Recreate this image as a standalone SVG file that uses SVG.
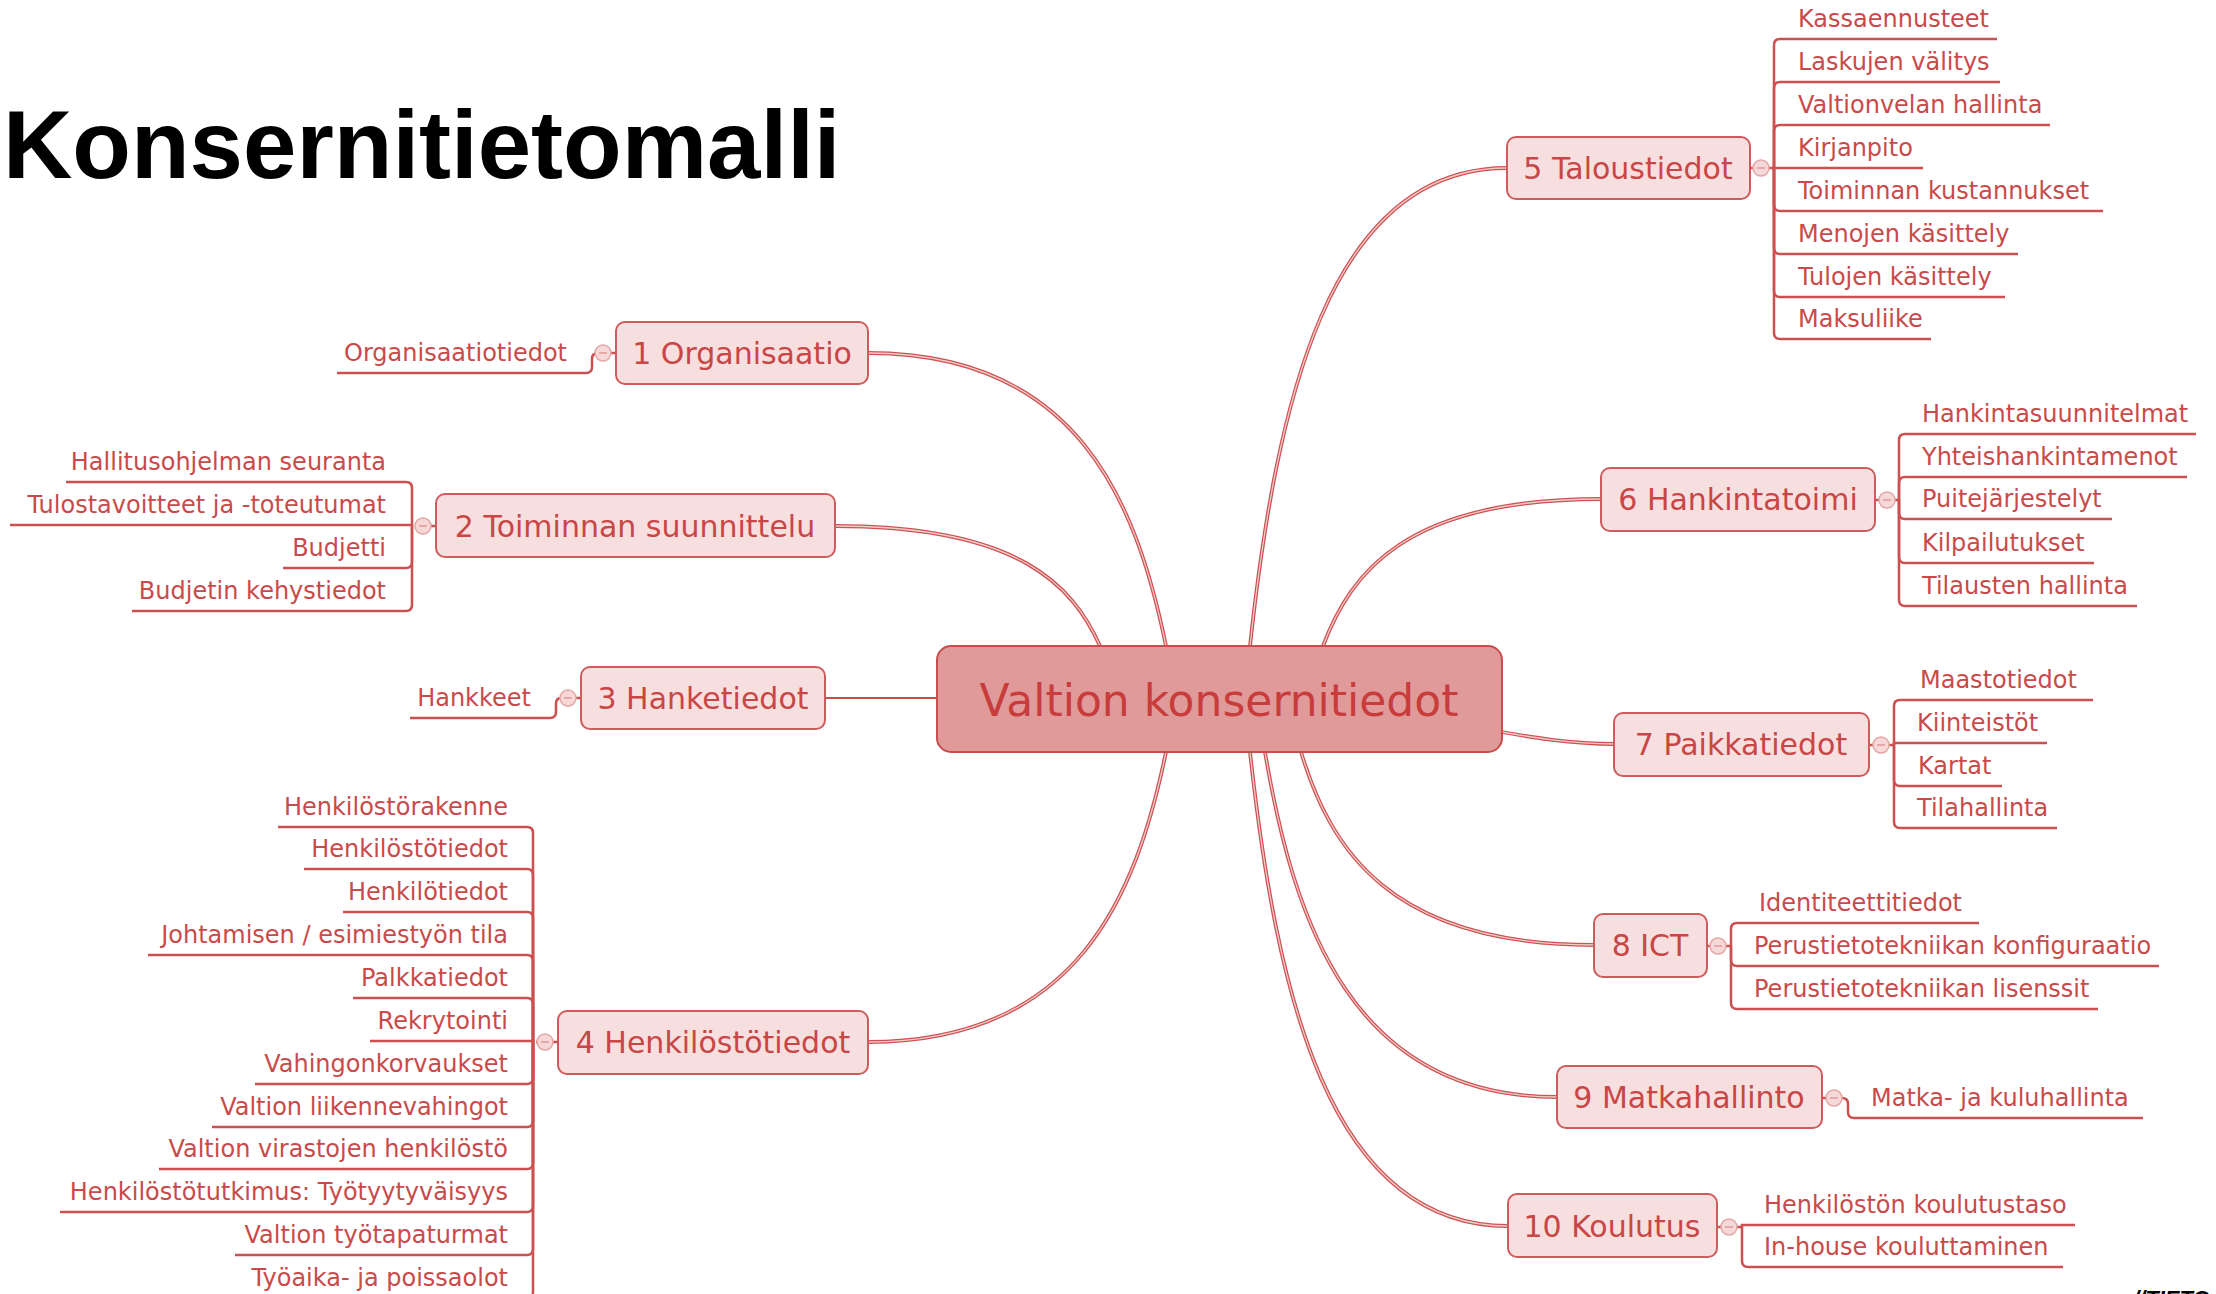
<svg xmlns="http://www.w3.org/2000/svg" width="2216" height="1294" viewBox="0 0 2216 1294">
<style>
.title{font-family:"Liberation Sans",Arial,sans-serif;font-weight:bold;font-size:96px;fill:#000}
.foot{font-family:"Liberation Sans",Arial,sans-serif;font-weight:bold;font-style:italic;font-size:22px;fill:#000}
.box{fill:#f7dfdf;stroke:#cf5c5c;stroke-width:2}
.cbox{fill:#e19a9a;stroke:#c84d4d;stroke-width:2}
.t1{font-family:"DejaVu Sans",Verdana,sans-serif;font-size:30px;fill:#c94646;text-anchor:middle}
.t0{font-family:"DejaVu Sans",Verdana,sans-serif;font-size:44px;fill:#c83c3c;text-anchor:middle}
.lf{font-family:"DejaVu Sans",Verdana,sans-serif;font-size:24px;fill:#c94a4a}
.lfl{font-family:"DejaVu Sans",Verdana,sans-serif;font-size:24px;fill:#c94a4a;text-anchor:end}
.ll{fill:none;stroke:#cc5050;stroke-width:2.5}
.mo{fill:none;stroke:#cc5252;stroke-width:3.8}
.mi{fill:none;stroke:#f4caca;stroke-width:1.3}
.ms{fill:none;stroke:#cc4c4c;stroke-width:2.2}
.btn{fill:#f7d8d8;stroke:#e3a6a6;stroke-width:1.5}
.bm{stroke:#e09a9a;stroke-width:1.5}
</style>

<text class="title" x="3" y="178">Konsernitietomalli</text>
<text class="foot" x="2133" y="1306">//TIETO</text>

<g id="connectors">
  <g id="main-connectors">
    <path class="mo" d="M1166 646 C1136 500 1077 353 868 353"/>
    <path class="mi" d="M1166 646 C1136 500 1077 353 868 353"/>
    <path class="mo" d="M1100 646 C1073 586 1020 526 835 526"/>
    <path class="mi" d="M1100 646 C1073 586 1020 526 835 526"/>
    <path class="ms" d="M937 698 H825"/>
    <path class="mo" d="M1166 752 C1136 897 1077 1042 868 1042"/>
    <path class="mi" d="M1166 752 C1136 897 1077 1042 868 1042"/>
    <path class="mo" d="M1250 646 C1276 407 1327 168 1507 168"/>
    <path class="mi" d="M1250 646 C1276 407 1327 168 1507 168"/>
    <path class="mo" d="M1323 646 C1351 572 1406 499 1601 499"/>
    <path class="mi" d="M1323 646 C1351 572 1406 499 1601 499"/>
    <path class="mo" d="M1502 732 C1530 737 1570 744 1614 744"/>
    <path class="mi" d="M1502 732 C1530 737 1570 744 1614 744"/>
    <path class="mo" d="M1301 752 C1330 848 1389 945 1594 945"/>
    <path class="mi" d="M1301 752 C1330 848 1389 945 1594 945"/>
    <path class="mo" d="M1265 752 C1294 924 1353 1097 1557 1097"/>
    <path class="mi" d="M1265 752 C1294 924 1353 1097 1557 1097"/>
    <path class="mo" d="M1250 752 C1276 989 1327 1226 1508 1226"/>
    <path class="mi" d="M1250 752 C1276 989 1327 1226 1508 1226"/>
  </g>
  <g id="leaf-connectors">
    <path class="ll" d="M868 353 H611"/>
    <path class="ll" d="M337 373 H586 Q592 373 592 367 V359 Q592 353 598 353"/>
    <path class="ll" d="M436 526 H415"/>
    <path class="ll" d="M412 526 V488 Q412 482 406 482 H66"/>
    <path class="ll" d="M412 526 V525 H10"/>
    <path class="ll" d="M412 526 V562 Q412 568 406 568 H283"/>
    <path class="ll" d="M412 526 V605 Q412 611 406 611 H132"/>
    <path class="ll" d="M581 698 H576"/>
    <path class="ll" d="M410 718 H550 Q556 718 556 712 V704 Q556 698 561 698"/>
    <path class="ll" d="M558 1042 H536"/>
    <path class="ll" d="M533 1042 V833 Q533 827 527 827 H278"/>
    <path class="ll" d="M533 1042 V875 Q533 869 527 869 H304"/>
    <path class="ll" d="M533 1042 V918 Q533 912 527 912 H343"/>
    <path class="ll" d="M533 1042 V961 Q533 955 527 955 H148"/>
    <path class="ll" d="M533 1042 V1004 Q533 998 527 998 H353"/>
    <path class="ll" d="M533 1042 V1041 H370"/>
    <path class="ll" d="M533 1042 V1078 Q533 1084 527 1084 H255"/>
    <path class="ll" d="M533 1042 V1121 Q533 1127 527 1127 H212"/>
    <path class="ll" d="M533 1042 V1163 Q533 1169 527 1169 H159"/>
    <path class="ll" d="M533 1042 V1206 Q533 1212 527 1212 H60"/>
    <path class="ll" d="M533 1042 V1249 Q533 1255 527 1255 H235"/>
    <path class="ll" d="M533 1042 V1292 Q533 1298 527 1298 H235"/>
    <path class="ll" d="M1750 168 H1753"/>
    <path class="ll" d="M1768 168 H1774"/>
    <path class="ll" d="M1774 168 V45 Q1774 39 1780 39 H1997"/>
    <path class="ll" d="M1774 168 V88 Q1774 82 1780 82 H2000"/>
    <path class="ll" d="M1774 168 V131 Q1774 125 1780 125 H2050"/>
    <path class="ll" d="M1774 168 H1923"/>
    <path class="ll" d="M1774 168 V205 Q1774 211 1780 211 H2103"/>
    <path class="ll" d="M1774 168 V248 Q1774 254 1780 254 H2018"/>
    <path class="ll" d="M1774 168 V291 Q1774 297 1780 297 H2005"/>
    <path class="ll" d="M1774 168 V333 Q1774 339 1780 339 H1931"/>
    <path class="ll" d="M1875 500 H1880"/>
    <path class="ll" d="M1894 500 H1899"/>
    <path class="ll" d="M1899 500 V440 Q1899 434 1905 434 H2196"/>
    <path class="ll" d="M1899 500 V483 Q1899 477 1905 477 H2187"/>
    <path class="ll" d="M1899 500 V513 Q1899 519 1905 519 H2112"/>
    <path class="ll" d="M1899 500 V557 Q1899 563 1905 563 H2094"/>
    <path class="ll" d="M1899 500 V600 Q1899 606 1905 606 H2137"/>
    <path class="ll" d="M1869 745 H1874"/>
    <path class="ll" d="M1888 745 H1894"/>
    <path class="ll" d="M1894 745 V706 Q1894 700 1900 700 H2093"/>
    <path class="ll" d="M1894 745 V743 H2047"/>
    <path class="ll" d="M1894 745 V780 Q1894 786 1900 786 H2002"/>
    <path class="ll" d="M1894 745 V822 Q1894 828 1900 828 H2057"/>
    <path class="ll" d="M1707 946 H1711"/>
    <path class="ll" d="M1725 946 H1731"/>
    <path class="ll" d="M1731 946 V929 Q1731 923 1737 923 H1979"/>
    <path class="ll" d="M1731 946 V960 Q1731 966 1737 966 H2159"/>
    <path class="ll" d="M1731 946 V1003 Q1731 1009 1737 1009 H2098"/>
    <path class="ll" d="M1822 1098 H1827"/>
    <path class="ll" d="M1841 1098 H1842 Q1848 1098 1848 1104 V1112 Q1848 1118 1854 1118 H2143"/>
    <path class="ll" d="M1717 1227 H1722"/>
    <path class="ll" d="M1736 1227 H1742"/>
    <path class="ll" d="M1742 1227 V1225 H2075"/>
    <path class="ll" d="M1742 1227 V1261 Q1742 1267 1748 1267 H2063"/>
  </g>
</g>

<g id="n0">
  <rect class="cbox" x="937" y="646" width="565" height="106" rx="14"/>
  <text class="t0" x="1219" y="716">Valtion konsernitiedot</text>
</g>

<g id="n1">
  <rect class="box" x="616" y="322" width="252" height="62" rx="9"/>
  <text class="t1" x="742" y="364">1 Organisaatio</text>
  <circle class="btn" cx="603" cy="353" r="8"/><path class="bm" d="M599 353 H607"/>
</g>
<g id="n1-1"><text class="lfl" x="567" y="361">Organisaatiotiedot</text></g>

<g id="n2">
  <rect class="box" x="436" y="494" width="399" height="63" rx="9"/>
  <text class="t1" x="635" y="537">2 Toiminnan suunnittelu</text>
  <circle class="btn" cx="423" cy="526" r="8"/><path class="bm" d="M419 526 H427"/>
</g>
<g id="n2-1"><text class="lfl" x="386" y="470">Hallitusohjelman seuranta</text></g>
<g id="n2-2"><text class="lfl" x="386" y="513">Tulostavoitteet ja -toteutumat</text></g>
<g id="n2-3"><text class="lfl" x="386" y="556">Budjetti</text></g>
<g id="n2-4"><text class="lfl" x="386" y="599">Budjetin kehystiedot</text></g>

<g id="n3">
  <rect class="box" x="581" y="667" width="244" height="62" rx="9"/>
  <text class="t1" x="703" y="709">3 Hanketiedot</text>
  <circle class="btn" cx="568" cy="698" r="8"/><path class="bm" d="M564 698 H572"/>
</g>
<g id="n3-1"><text class="lfl" x="531" y="706">Hankkeet</text></g>

<g id="n4">
  <rect class="box" x="558" y="1011" width="310" height="63" rx="9"/>
  <text class="t1" x="713" y="1053">4 Henkilöstötiedot</text>
  <circle class="btn" cx="545" cy="1042" r="8"/><path class="bm" d="M541 1042 H549"/>
</g>
<g id="n4-1"><text class="lfl" x="508" y="815">Henkilöstörakenne</text></g>
<g id="n4-2"><text class="lfl" x="508" y="857">Henkilöstötiedot</text></g>
<g id="n4-3"><text class="lfl" x="508" y="900">Henkilötiedot</text></g>
<g id="n4-4"><text class="lfl" x="508" y="943">Johtamisen / esimiestyön tila</text></g>
<g id="n4-5"><text class="lfl" x="508" y="986">Palkkatiedot</text></g>
<g id="n4-6"><text class="lfl" x="508" y="1029">Rekrytointi</text></g>
<g id="n4-7"><text class="lfl" x="508" y="1072">Vahingonkorvaukset</text></g>
<g id="n4-8"><text class="lfl" x="508" y="1115">Valtion liikennevahingot</text></g>
<g id="n4-9"><text class="lfl" x="508" y="1157">Valtion virastojen henkilöstö</text></g>
<g id="n4-10"><text class="lfl" x="508" y="1200">Henkilöstötutkimus: Työtyytyväisyys</text></g>
<g id="n4-11"><text class="lfl" x="508" y="1243">Valtion työtapaturmat</text></g>
<g id="n4-12"><text class="lfl" x="508" y="1286">Työaika- ja poissaolot</text></g>

<g id="n5">
  <rect class="box" x="1507" y="137" width="243" height="62" rx="9"/>
  <text class="t1" x="1628" y="179">5 Taloustiedot</text>
  <circle class="btn" cx="1761" cy="168" r="8"/><path class="bm" d="M1757 168 H1765"/>
</g>
<g id="n5-1"><text class="lf" x="1798" y="27">Kassaennusteet</text></g>
<g id="n5-2"><text class="lf" x="1798" y="70">Laskujen välitys</text></g>
<g id="n5-3"><text class="lf" x="1798" y="113">Valtionvelan hallinta</text></g>
<g id="n5-4"><text class="lf" x="1798" y="156">Kirjanpito</text></g>
<g id="n5-5"><text class="lf" x="1798" y="199">Toiminnan kustannukset</text></g>
<g id="n5-6"><text class="lf" x="1798" y="242">Menojen käsittely</text></g>
<g id="n5-7"><text class="lf" x="1798" y="285">Tulojen käsittely</text></g>
<g id="n5-8"><text class="lf" x="1798" y="327">Maksuliike</text></g>

<g id="n6">
  <rect class="box" x="1601" y="468" width="274" height="63" rx="9"/>
  <text class="t1" x="1738" y="510">6 Hankintatoimi</text>
  <circle class="btn" cx="1887" cy="500" r="8"/><path class="bm" d="M1883 500 H1891"/>
</g>
<g id="n6-1"><text class="lf" x="1922" y="422">Hankintasuunnitelmat</text></g>
<g id="n6-2"><text class="lf" x="1922" y="465">Yhteishankintamenot</text></g>
<g id="n6-3"><text class="lf" x="1922" y="507">Puitejärjestelyt</text></g>
<g id="n6-4"><text class="lf" x="1922" y="551">Kilpailutukset</text></g>
<g id="n6-5"><text class="lf" x="1922" y="594">Tilausten hallinta</text></g>

<g id="n7">
  <rect class="box" x="1614" y="713" width="255" height="63" rx="9"/>
  <text class="t1" x="1741" y="755">7 Paikkatiedot</text>
  <circle class="btn" cx="1881" cy="745" r="8"/><path class="bm" d="M1877 745 H1885"/>
</g>
<g id="n7-1"><text class="lf" x="1920" y="688">Maastotiedot</text></g>
<g id="n7-2"><text class="lf" x="1917" y="731">Kiinteistöt</text></g>
<g id="n7-3"><text class="lf" x="1918" y="774">Kartat</text></g>
<g id="n7-4"><text class="lf" x="1917" y="816">Tilahallinta</text></g>

<g id="n8">
  <rect class="box" x="1594" y="914" width="113" height="63" rx="9"/>
  <text class="t1" x="1650" y="956">8 ICT</text>
  <circle class="btn" cx="1718" cy="946" r="8"/><path class="bm" d="M1714 946 H1722"/>
</g>
<g id="n8-1"><text class="lf" x="1759" y="911">Identiteettitiedot</text></g>
<g id="n8-2"><text class="lf" x="1754" y="954">Perustietotekniikan konfiguraatio</text></g>
<g id="n8-3"><text class="lf" x="1754" y="997">Perustietotekniikan lisenssit</text></g>

<g id="n9">
  <rect class="box" x="1557" y="1066" width="265" height="62" rx="9"/>
  <text class="t1" x="1689" y="1108">9 Matkahallinto</text>
  <circle class="btn" cx="1834" cy="1098" r="8"/><path class="bm" d="M1830 1098 H1838"/>
</g>
<g id="n9-1"><text class="lf" x="1871" y="1106">Matka- ja kuluhallinta</text></g>

<g id="n10">
  <rect class="box" x="1508" y="1194" width="209" height="63" rx="9"/>
  <text class="t1" x="1612" y="1237">10 Koulutus</text>
  <circle class="btn" cx="1729" cy="1227" r="8"/><path class="bm" d="M1725 1227 H1733"/>
</g>
<g id="n10-1"><text class="lf" x="1764" y="1213">Henkilöstön koulutustaso</text></g>
<g id="n10-2"><text class="lf" x="1764" y="1255">In-house kouluttaminen</text></g>
</svg>
